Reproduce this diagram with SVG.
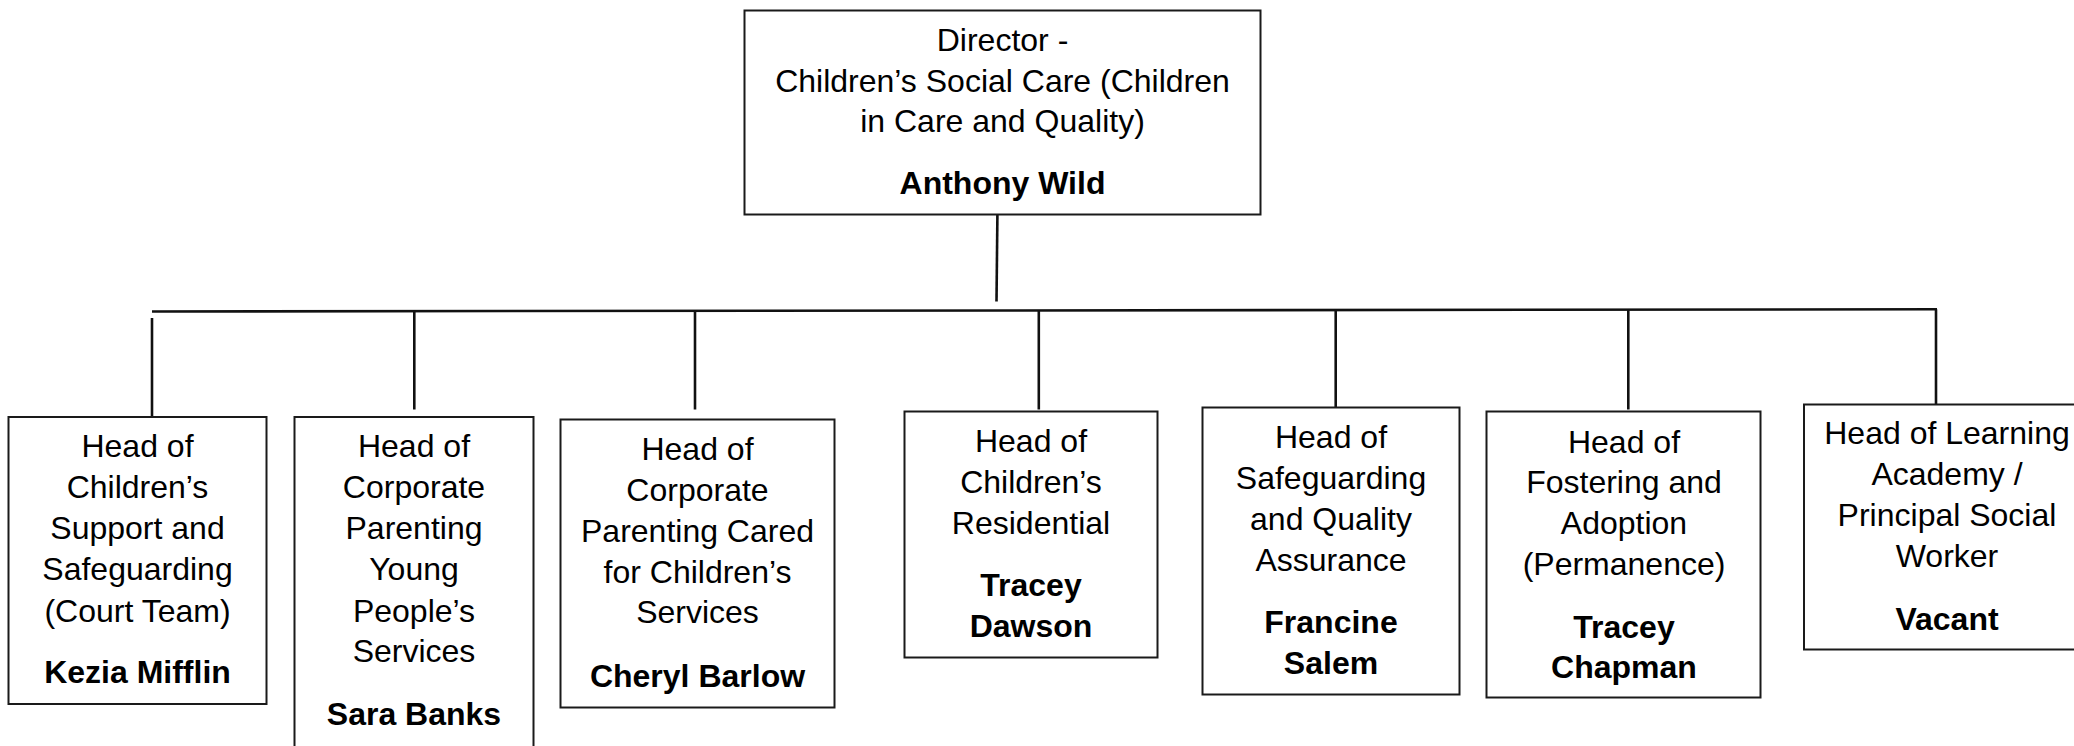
<svg xmlns="http://www.w3.org/2000/svg" width="2074" height="746" viewBox="0 0 2074 746">
<style>
.box{fill:#fff;stroke:#1a1a1a;stroke-width:2}
.t{font-family:"Liberation Sans",Arial,sans-serif;font-size:32px;fill:#000;text-anchor:middle}
.b{font-weight:bold}
.c{stroke:#111;stroke-width:2.6;fill:none}
</style>
<rect width="2074" height="746" fill="#fff"/>
<g id="connectors">
<line class="c" x1="997.5" y1="206" x2="996.5" y2="301.5"/>
<line class="c" x1="152" y1="311.5" x2="1937" y2="309.3"/>
<line class="c" x1="152" y1="318" x2="152" y2="417"/>
<line class="c" x1="414.3" y1="311" x2="414.3" y2="409.5"/>
<line class="c" x1="695" y1="311" x2="695" y2="409.5"/>
<line class="c" x1="1038.8" y1="310.5" x2="1038.8" y2="409.5"/>
<line class="c" x1="1335.7" y1="310" x2="1335.7" y2="408"/>
<line class="c" x1="1628.3" y1="309.8" x2="1628.3" y2="409.5"/>
<line class="c" x1="1936" y1="309.3" x2="1936" y2="407"/>
</g>
<g id="director">
<rect class="box" x="744.5" y="10.5" width="516" height="204"/>
<text class="t" x="1002.5" y="50.7">Director -</text>
<text class="t" x="1002.5" y="91.7">Children’s Social Care (Children</text>
<text class="t" x="1002.5" y="131.7">in Care and Quality)</text>
<text class="t b" x="1002.5" y="194.3">Anthony Wild</text>
</g>
<g id="n1">
<rect class="box" x="8.5" y="417" width="258" height="287"/>
<text class="t" x="137.5" y="456.7">Head of</text>
<text class="t" x="137.5" y="498.3">Children’s</text>
<text class="t" x="137.5" y="539">Support and</text>
<text class="t" x="137.5" y="580">Safeguarding</text>
<text class="t" x="137.5" y="621.7">(Court Team)</text>
<text class="t b" x="137.5" y="683.3">Kezia Mifflin</text>
</g>
<g id="n2">
<rect class="box" x="294.5" y="417" width="239" height="345"/>
<text class="t" x="414" y="456.7">Head of</text>
<text class="t" x="414" y="498">Corporate</text>
<text class="t" x="414" y="539">Parenting</text>
<text class="t" x="414" y="580">Young</text>
<text class="t" x="414" y="621.7">People’s</text>
<text class="t" x="414" y="661.7">Services</text>
<text class="t b" x="414" y="725">Sara Banks</text>
</g>
<g id="n3">
<rect class="box" x="560.5" y="419.5" width="274" height="288"/>
<text class="t" x="697.5" y="460">Head of</text>
<text class="t" x="697.5" y="500.7">Corporate</text>
<text class="t" x="697.5" y="541.7">Parenting Cared</text>
<text class="t" x="697.5" y="582.7">for Children’s</text>
<text class="t" x="697.5" y="623.3">Services</text>
<text class="t b" x="697.5" y="686.7">Cheryl Barlow</text>
</g>
<g id="n4">
<rect class="box" x="904.5" y="411.5" width="253" height="246"/>
<text class="t" x="1031" y="451.7">Head of</text>
<text class="t" x="1031" y="492.7">Children’s</text>
<text class="t" x="1031" y="534">Residential</text>
<text class="t b" x="1031" y="596">Tracey</text>
<text class="t b" x="1031" y="636.7">Dawson</text>
</g>
<g id="n5">
<rect class="box" x="1202.5" y="407.5" width="257" height="287"/>
<text class="t" x="1331" y="448.3">Head of</text>
<text class="t" x="1331" y="489.3">Safeguarding</text>
<text class="t" x="1331" y="530">and Quality</text>
<text class="t" x="1331" y="571">Assurance</text>
<text class="t b" x="1331" y="633.3">Francine</text>
<text class="t b" x="1331" y="674">Salem</text>
</g>
<g id="n6">
<rect class="box" x="1486.5" y="411.5" width="274" height="286"/>
<text class="t" x="1624" y="452.7">Head of</text>
<text class="t" x="1624" y="493.3">Fostering and</text>
<text class="t" x="1624" y="534.3">Adoption</text>
<text class="t" x="1624" y="575">(Permanence)</text>
<text class="t b" x="1624" y="638.3">Tracey</text>
<text class="t b" x="1624" y="678.3">Chapman</text>
</g>
<g id="n7">
<rect class="box" x="1804" y="404.5" width="290" height="245"/>
<text class="t" x="1947" y="444">Head of Learning</text>
<text class="t" x="1947" y="485">Academy /</text>
<text class="t" x="1947" y="526">Principal Social</text>
<text class="t" x="1947" y="566.7">Worker</text>
<text class="t b" x="1947" y="630">Vacant</text>
</g>
</svg>
